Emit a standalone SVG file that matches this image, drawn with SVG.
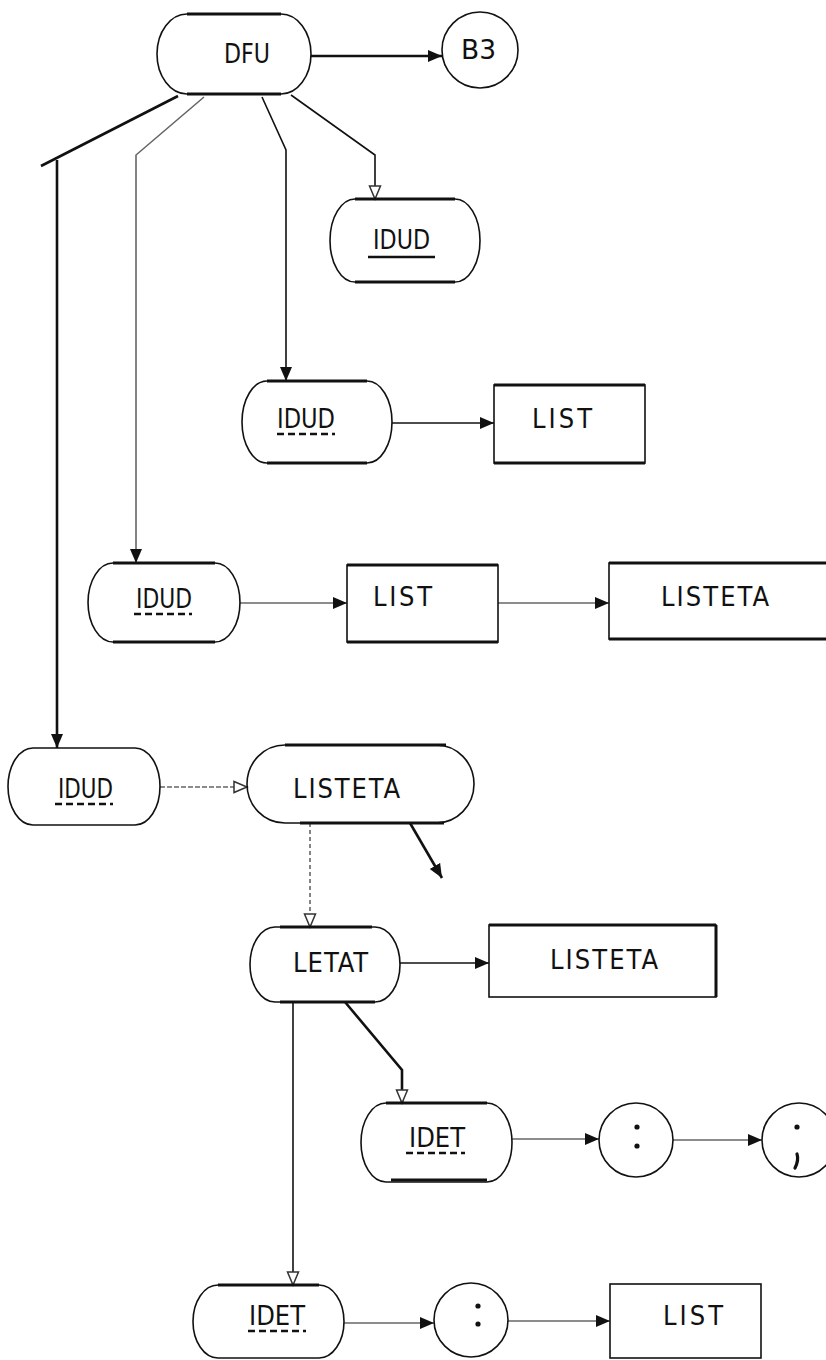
<svg xmlns="http://www.w3.org/2000/svg" width="826" height="1360" viewBox="0 0 826 1360">
<defs>
<marker id="ah" markerUnits="userSpaceOnUse" markerWidth="16" markerHeight="14" refX="14" refY="7" orient="auto">
<path d="M0,1 L14,7 L0,13 Z" fill="#111"/>
</marker>
<marker id="ao" markerUnits="userSpaceOnUse" markerWidth="16" markerHeight="14" refX="14" refY="7" orient="auto">
<path d="M1,1.5 L14,7 L1,12.5 Z" fill="#fff" stroke="#333" stroke-width="1.5"/>
</marker>
</defs>
<style>
.sh{fill:none;stroke:#111;stroke-width:1.6}
.edge{fill:none;stroke:#111;stroke-width:3}
.t{font-family:"DejaVu Sans Condensed","Liberation Sans Narrow","Liberation Sans",sans-serif;font-size:27px;fill:#111}
.ul{stroke:#111;stroke-width:2.5}
.dul{stroke:#111;stroke-width:2.5;stroke-dasharray:7,4}
.c{fill:none;stroke:#111;stroke-width:1.6}
.cg{fill:none;stroke:#666;stroke-width:1.6}
.ck{fill:none;stroke:#111;stroke-width:2.6}
</style>
<rect width="826" height="1360" fill="#fff"/>

<g id="connectors">
<path class="ck" d="M311,56 H442" marker-end="url(#ah)"/>
<path class="ck" d="M178,96 L41,166"/>
<path class="ck" d="M57,160 V748" marker-end="url(#ah)"/>
<path class="cg" d="M204,97 L136,155 V563" marker-end="url(#ah)"/>
<path class="c" d="M262,97 L286,150 V381" stroke-width="2.2" marker-end="url(#ah)"/>
<path class="c" d="M291,95 L375,155 V199" marker-end="url(#ao)"/>
<path class="c" d="M392,423 H494" marker-end="url(#ah)"/>
<path class="cg" d="M240,603 H347" marker-end="url(#ah)"/>
<path class="cg" d="M498,603 H609" marker-end="url(#ah)"/>
<path class="cg" d="M160,787 H247" stroke-dasharray="5,2" marker-end="url(#ao)"/>
<path class="ck" d="M410,823 L442,878" marker-end="url(#ah)"/>
<path class="cg" d="M310,823 V927" stroke-dasharray="4,3" marker-end="url(#ao)"/>
<path class="c" d="M400,963 H489" marker-end="url(#ah)"/>
<path class="c" d="M293,1002 V1285" marker-end="url(#ao)"/>
<path class="ck" d="M345,1002 L402,1070 V1103" stroke-width="3.2" marker-end="url(#ao)"/>
<path class="cg" d="M512,1139 H599" marker-end="url(#ah)"/>
<path class="cg" d="M673,1140 H762" marker-end="url(#ah)"/>
<path class="cg" d="M344,1323 H434" marker-end="url(#ah)"/>
<path class="cg" d="M508,1321 H610" marker-end="url(#ah)"/>
</g>

<g id="n-dfu">
<path class="sh" d="M187,14 H281 A30,40 0 0 1 281,94 H187 A30,40 0 0 1 187,14 Z" stroke-width="2.2"/>
<path class="edge" d="M187,14 H281 M187,94 H281"/>
<text class="t" x="224" y="63" textLength="46" lengthAdjust="spacingAndGlyphs">DFU</text>
</g>

<g id="n-b3">
<circle class="sh" cx="480" cy="50" r="38" stroke-width="2"/>
<text class="t" x="461" y="59" textLength="35" lengthAdjust="spacingAndGlyphs">B3</text>
</g>

<g id="n-idud1">
<path class="sh" d="M355,199 H455 A25,41.5 0 0 1 455,282 H355 A25,41.5 0 0 1 355,199 Z" stroke-width="1.8"/>
<path class="edge" d="M355,199 H455 M355,282 H455"/>
<text class="t" x="373" y="249" textLength="57" lengthAdjust="spacingAndGlyphs">IDUD</text>
<line class="ul" x1="368" y1="257" x2="435" y2="257"/>
</g>

<g id="n-idud2">
<path class="sh" d="M267,381 H367 A25,41 0 0 1 367,463 H267 A25,41 0 0 1 267,381 Z"/>
<path class="edge" d="M267,381 H367 M267,463 H367"/>
<text class="t" x="277" y="428" textLength="58" lengthAdjust="spacingAndGlyphs">IDUD</text>
<line class="dul" x1="277" y1="434" x2="335" y2="434"/>
</g>

<g id="n-list1">
<rect class="sh" x="494" y="385" width="151" height="78"/>
<path class="edge" d="M494,385 H645 M494,463 H645"/>
<text class="t" x="532" y="428" textLength="60" lengthAdjust="spacing">LIST</text>
</g>

<g id="n-idud3">
<path class="sh" d="M113,563 H215 A25,39.5 0 0 1 215,642 H113 A25,39.5 0 0 1 113,563 Z"/>
<path class="edge" d="M113,563 H215 M113,642 H215"/>
<text class="t" x="136" y="608" textLength="56" lengthAdjust="spacingAndGlyphs">IDUD</text>
<line class="dul" x1="134" y1="614" x2="192" y2="614"/>
</g>

<g id="n-list2">
<rect class="sh" x="347" y="565" width="151" height="77"/>
<path class="edge" d="M347,565 H498 M347,642 H498"/>
<text class="t" x="373" y="606" textLength="59" lengthAdjust="spacing">LIST</text>
</g>

<g id="n-listeta1">
<rect class="sh" x="609" y="563" width="230" height="76"/>
<path class="edge" d="M609,563 H830 M609,639 H830"/>
<text class="t" x="661" y="606" textLength="108" lengthAdjust="spacing">LISTETA</text>
</g>

<g id="n-idud4">
<path class="sh" d="M33,748 H135 A25,38.5 0 0 1 135,825 H33 A25,38.5 0 0 1 33,748 Z" stroke="#444"/>
<text class="t" x="58" y="798" textLength="55" lengthAdjust="spacingAndGlyphs">IDUD</text>
<line class="dul" x1="55" y1="804" x2="113" y2="804"/>
</g>

<g id="n-listeta-s">
<path class="sh" d="M285,745 H436 A38,39 0 0 1 436,823 H285 A38,39 0 0 1 285,745 Z" stroke-width="2"/>
<path class="edge" d="M285,745 H446 M300,823 H444"/>
<text class="t" x="293" y="798" textLength="107" lengthAdjust="spacing">LISTETA</text>
</g>

<g id="n-letat">
<path class="sh" d="M275,927 H375 A25,37.5 0 0 1 375,1002 H275 A25,37.5 0 0 1 275,927 Z"/>
<path class="edge" d="M280,927 H372 M280,1002 H375"/>
<text class="t" x="293" y="972" textLength="75" lengthAdjust="spacing">LETAT</text>
</g>

<g id="n-listeta2">
<rect class="sh" x="489" y="925" width="227" height="72" stroke-width="1.8"/>
<path class="edge" d="M489,925 H716 M716,925 V997"/>
<text class="t" x="550" y="969" textLength="108" lengthAdjust="spacing">LISTETA</text>
</g>

<g id="n-idet1">
<path class="sh" d="M386,1103 H487 A25,39.5 0 0 1 487,1182 H386 A25,39.5 0 0 1 386,1103 Z"/>
<path class="edge" d="M386,1103 H487 M391,1180 H487"/>
<text class="t" x="409" y="1147" textLength="56" lengthAdjust="spacingAndGlyphs">IDET</text>
<line class="dul" x1="406" y1="1153" x2="465" y2="1153"/>
</g>

<g id="n-colon1">
<circle class="sh" cx="636" cy="1140" r="37"/>
<circle cx="637" cy="1127" r="2.6" fill="#111"/>
<circle cx="637" cy="1146" r="2.6" fill="#111"/>
</g>

<g id="n-semicolon">
<circle class="sh" cx="799" cy="1140" r="37"/>
<circle cx="797" cy="1127" r="2.6" fill="#111"/>
<path d="M797,1154 Q799,1160 795,1168" fill="none" stroke="#111" stroke-width="3.2" stroke-linecap="round"/>
</g>

<g id="n-idet2">
<path class="sh" d="M218,1285 H319 A25,36.5 0 0 1 319,1358 H218 A25,36.5 0 0 1 218,1285 Z"/>
<path class="edge" d="M218,1285 H319"/>
<text class="t" x="249" y="1325" textLength="56" lengthAdjust="spacingAndGlyphs">IDET</text>
<line class="dul" x1="248" y1="1331" x2="306" y2="1331"/>
</g>

<g id="n-colon2">
<circle class="sh" cx="471" cy="1320" r="37"/>
<circle cx="478" cy="1306" r="2.6" fill="#111"/>
<circle cx="478" cy="1324" r="2.6" fill="#111"/>
</g>

<g id="n-list3">
<rect class="sh" x="610" y="1284" width="151" height="74"/>
<text class="t" x="663" y="1325" textLength="60" lengthAdjust="spacing">LIST</text>
</g>
</svg>
